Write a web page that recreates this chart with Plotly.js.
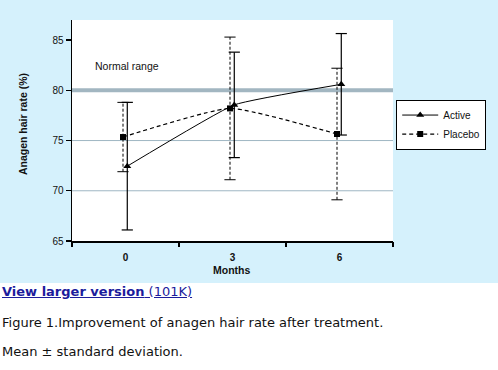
<!DOCTYPE html>
<html>
<head>
<meta charset="utf-8">
<script src="https://cdn.plot.ly/plotly-3.0.1.min.js"></script>
<style>
  html, body { margin: 0; padding: 0; background: #ffffff; width: 498px; height: 370px; overflow: hidden; }
  #chart { position: absolute; left: 0; top: 0; width: 498px; height: 283px; }
  .txt { position: absolute; left: 2px; font-family: "DejaVu Sans", Verdana, sans-serif; color: #111; white-space: nowrap; }
  #link { top: 284px; font-size: 13px; color: #1c1c9c; text-decoration: underline; }
  #link b { font-weight: bold; }
  #cap1 { top: 315px; font-size: 13px; }
  #cap2 { top: 344px; font-size: 13px; }
</style>
</head>
<body>
<div id="chart"></div>
<div class="txt" id="link"><b>View larger version</b> (101K)</div>
<div class="txt" id="cap1">Figure 1.Improvement of anagen hair rate after treatment.</div>
<div class="txt" id="cap2">Mean ± standard deviation.</div>
<script>
// ---- data ----
const months = [0, 3, 6];
const monthLabels = ["0", "3", "6"];
const activeMean = [72.45, 78.55, 80.6];
const activeSD = [6.35, 5.25, 5.05];
const placeboMean = [75.35, 78.2, 75.65];
const placeboSD = [3.45, 7.1, 6.55];
const yTicks = [65, 70, 75, 80, 85];
const gridLines = [70, 75];
const normalRange = 80;

// ---- helpers ----
const offA = 0.05, offP = -0.07;
function shift(arr, d) { return arr.map(v => v + d); }
function errSegments(xs, mean, sd) {
  const x = [], y = [];
  xs.forEach((xv, i) => { x.push(xv, xv, null); y.push(mean[i] - sd[i], mean[i] + sd[i], null); });
  return {x, y};
}
function capPoints(xs, mean, sd) {
  const x = [], y = [];
  xs.forEach((xv, i) => { x.push(xv, xv); y.push(mean[i] - sd[i], mean[i] + sd[i]); });
  return {x, y};
}

const xA = shift(months, offA), xP = shift(months, offP);
const eA = errSegments(xA, activeMean, activeSD), cA = capPoints(xA, activeMean, activeSD);
const eP = errSegments(xP, placeboMean, placeboSD), cP = capPoints(xP, placeboMean, placeboSD);

const traces = [
  {x: eP.x, y: eP.y, mode: 'lines', line: {color: '#000', width: 1, dash: '3px,2px'}, showlegend: false, hoverinfo: 'skip'},
  {x: cP.x, y: cP.y, mode: 'markers', marker: {symbol: 'line-ew-open', size: 8, color: '#000', line: {color: '#000', width: 1}}, showlegend: false, hoverinfo: 'skip'},
  {x: eA.x, y: eA.y, mode: 'lines', line: {color: '#000', width: 1.2}, showlegend: false, hoverinfo: 'skip'},
  {x: cA.x, y: cA.y, mode: 'markers', marker: {symbol: 'line-ew-open', size: 8, color: '#000', line: {color: '#000', width: 1.2}}, showlegend: false, hoverinfo: 'skip'},
  {x: xA, y: activeMean, name: 'Active', mode: 'lines+markers',
   line: {color: '#000', width: 1, shape: 'spline', smoothing: 0.35},
   marker: {symbol: 'triangle-up', size: 7, color: '#000'}},
  {x: xP, y: placeboMean, name: 'Placebo', mode: 'lines+markers',
   line: {color: '#000', width: 1.2, dash: '4px,3px', shape: 'spline', smoothing: 0.45},
   marker: {symbol: 'square', size: 6, color: '#000'}},
  // boundary ticks axis helper
  {x: [-1.5], y: [65], xaxis: 'x2', mode: 'markers', marker: {opacity: 0, color: '#000'}, showlegend: false, hoverinfo: 'skip'}
];

const shapes = gridLines.map(v => ({type: 'line', xref: 'paper', x0: 0, x1: 1, yref: 'y', y0: v, y1: v,
  line: {color: '#9fb6c3', width: 1}, layer: 'below'}));
shapes.push({type: 'line', xref: 'paper', x0: 0, x1: 1, yref: 'y', y0: normalRange, y1: normalRange,
  line: {color: '#a2b6c1', width: 4}, layer: 'below'});

const layout = {
  width: 498, height: 283,
  margin: {l: 72, r: 103, t: 20, b: 42},
  paper_bgcolor: '#d5f1fc',
  plot_bgcolor: '#ffffff',
  font: {family: 'Liberation Sans, Arial, sans-serif', size: 10, color: '#111'},
  showlegend: true,
  legend: {x: 1.01, y: 0.64, xanchor: 'left', yanchor: 'top', bgcolor: '#ffffff', bordercolor: '#000', borderwidth: 1,
    font: {size: 10, color: '#111'}, tracegroupgap: 0, itemwidth: 36},
  xaxis: {range: [-1.5, 7.5], tickvals: months, ticktext: monthLabels, ticks: '', showgrid: false, zeroline: false,
    showline: true, linecolor: '#000', linewidth: 1.5, fixedrange: true, ticklabelstandoff: 6,
    tickfont: {size: 10, color: '#111', family: 'Liberation Sans, Arial, sans-serif', weight: 'bold'}},
  xaxis2: {overlaying: 'x', anchor: 'y', side: 'bottom', range: [-1.5, 7.5], tickvals: [-1.5, 1.5, 4.5, 7.5],
    ticks: 'outside', ticklen: 5, tickcolor: '#000', tickwidth: 1.2, showticklabels: false, showgrid: false, zeroline: false, showline: false},
  yaxis: {range: [65, 87], tickvals: yTicks, ticks: 'outside', ticklen: 5, tickcolor: '#000', tickwidth: 1.2,
    showgrid: false, zeroline: false, showline: true, linecolor: '#000', linewidth: 1.5,
    tickfont: {size: 10, color: '#111'}},
  shapes: shapes,
  annotations: [
    {text: 'Normal range', xref: 'paper', yref: 'y', x: 0.065, y: 82.4, xanchor: 'left', yanchor: 'middle', showarrow: false,
      font: {size: 10.5, color: '#111'}},
    {text: '<b>Anagen hair rate (%)</b>', xref: 'paper', yref: 'paper', x: -0.152, y: 0.53, textangle: -90,
      xanchor: 'center', yanchor: 'middle', showarrow: false, font: {size: 10.5, color: '#111'}},
    {text: '<b>Months</b>', xref: 'paper', yref: 'paper', x: 0.498, y: -0.131, xanchor: 'center', yanchor: 'middle',
      showarrow: false, font: {size: 10.5, color: '#111'}}
  ]
};

Plotly.newPlot('chart', traces, layout, {displayModeBar: false, staticPlot: true});
</script>
</body>
</html>
